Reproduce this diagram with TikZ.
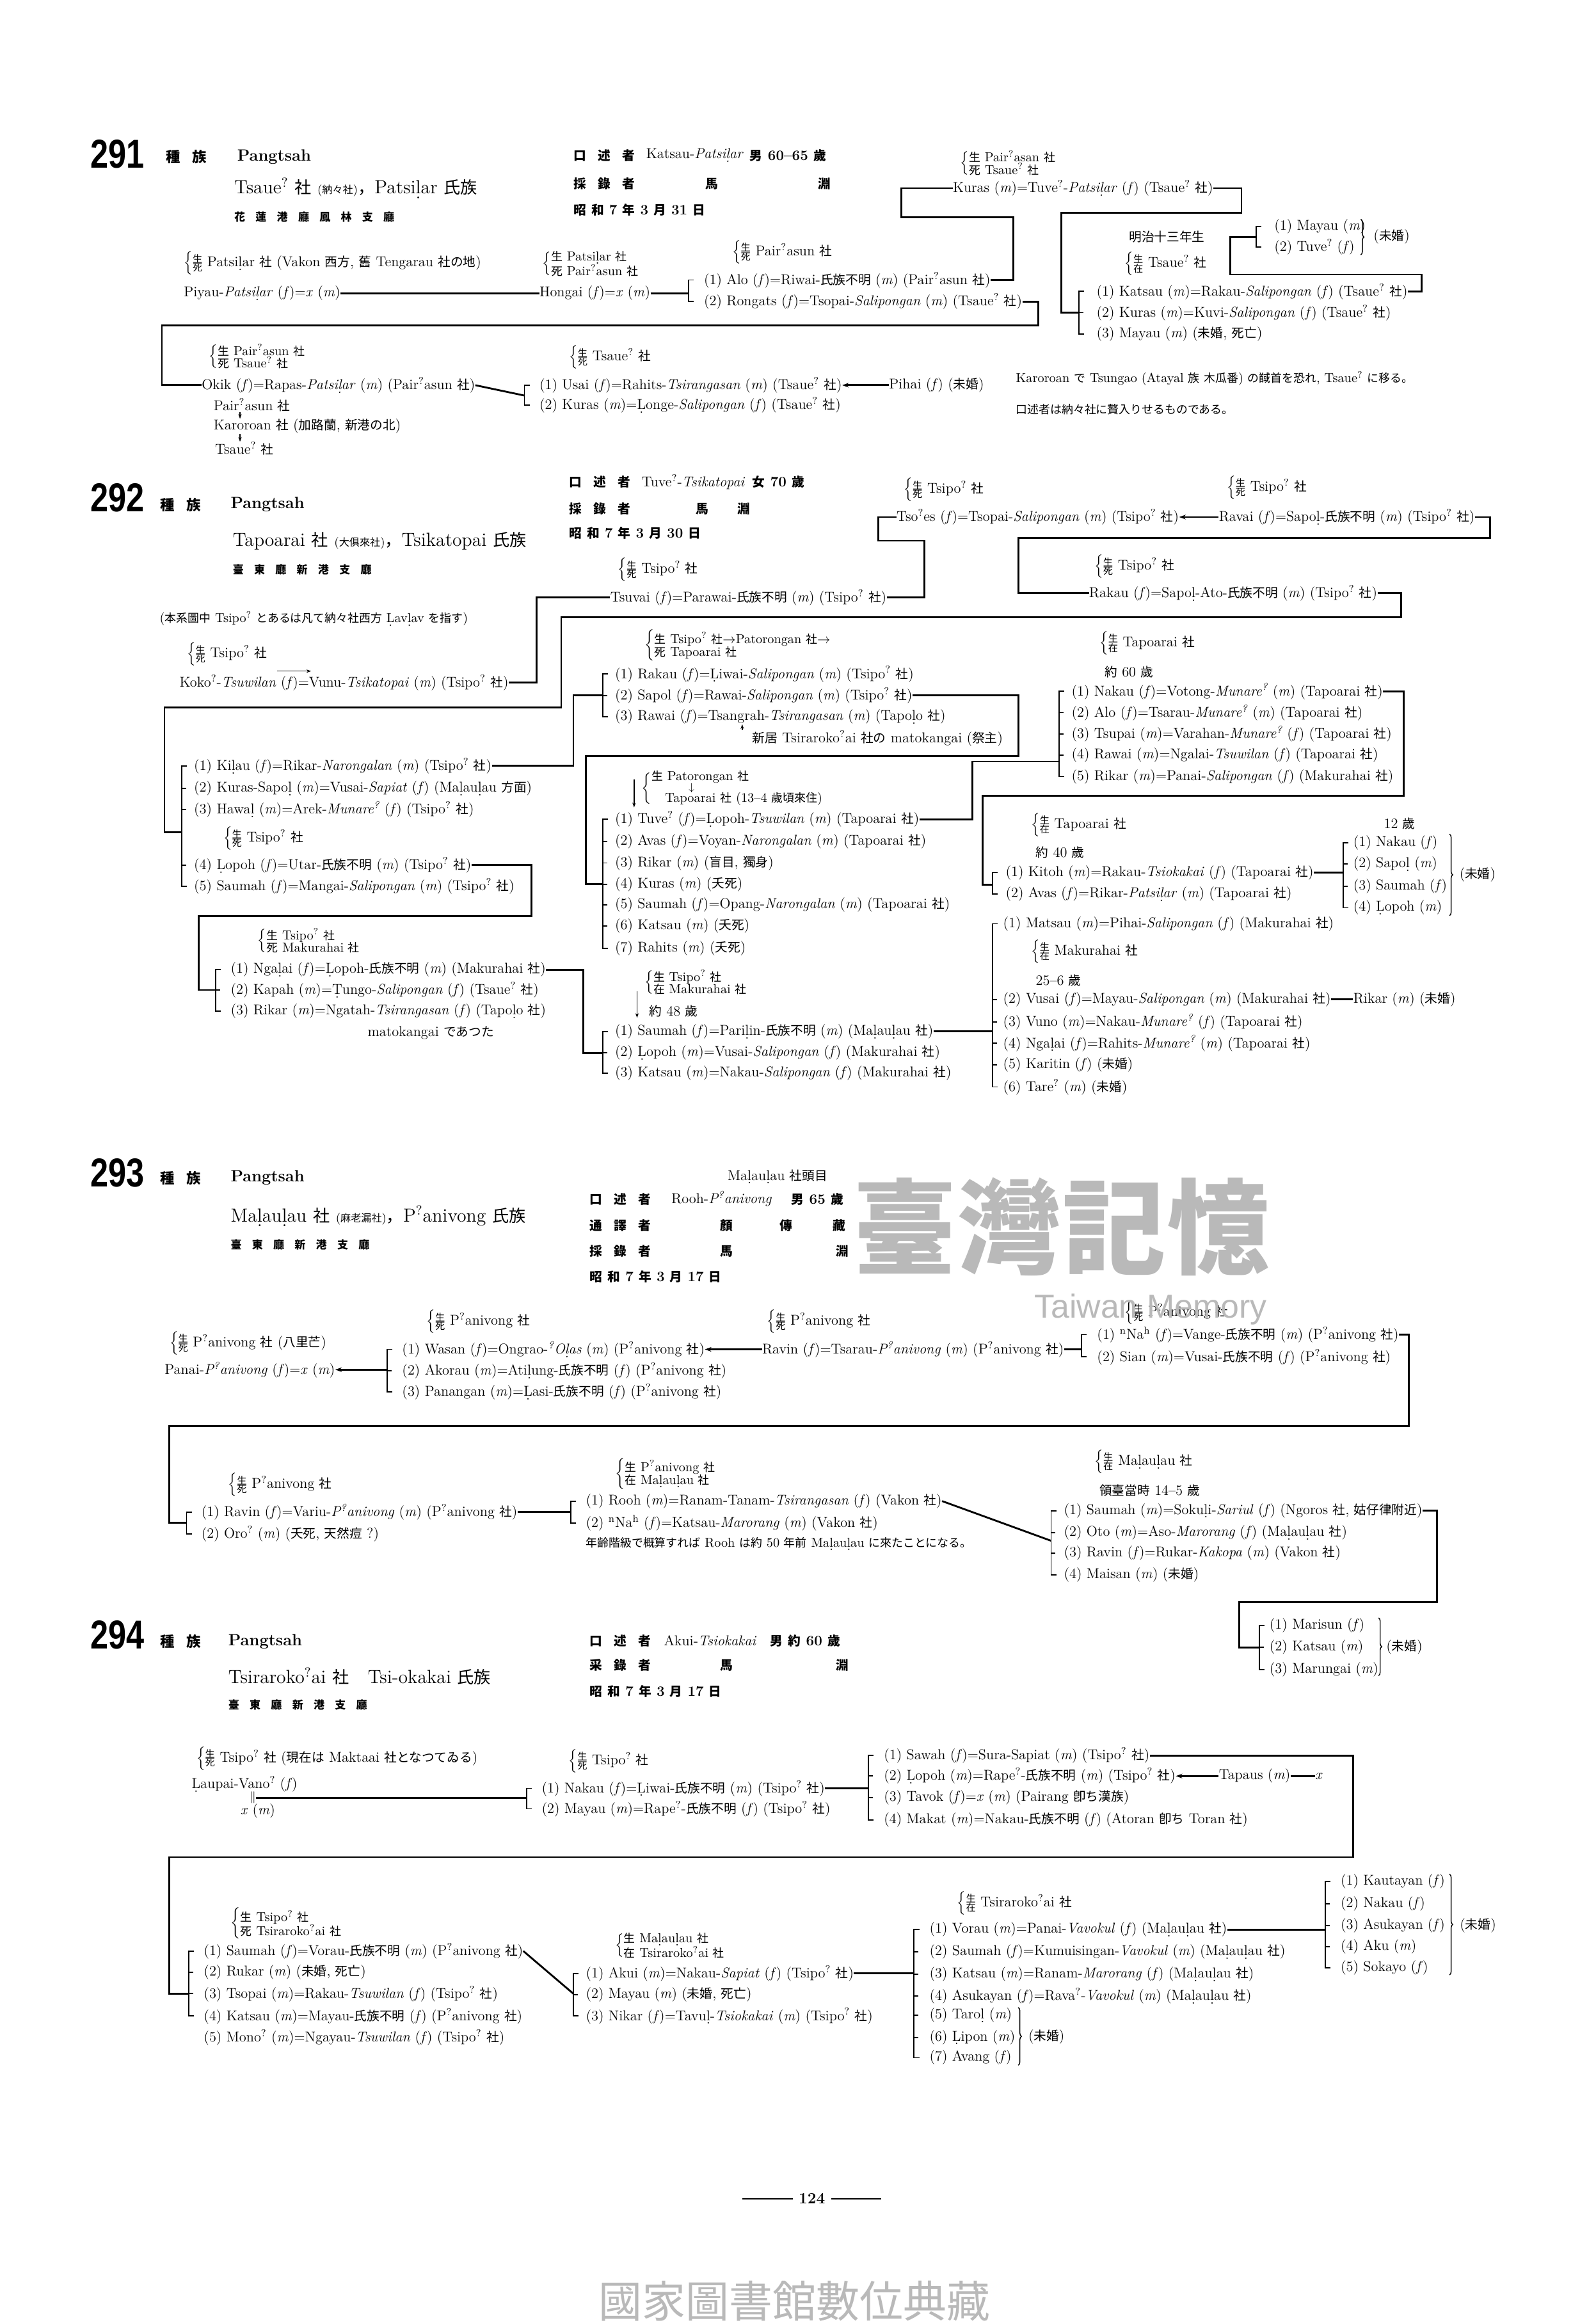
\documentclass[tikz,border=0pt]{standalone}
\usepackage{fontspec}
\usetikzlibrary{arrows.meta,decorations.pathreplacing}
\newfontfamily\cjkfont{Noto Sans CJK JP}[Scale=0.88]
\newfontfamily\numfont{Liberation Sans}[FakeStretch=0.8]
\newfontfamily\wmfont{Liberation Sans}
% switch to the CJK font for CJK characters
\XeTeXinterchartokenstate=1
\chardef\cjkcls=7
\newcount\cjkc
\def\cjkrange#1#2{\cjkc=#1\relax
  \loop\XeTeXcharclass\cjkc=\cjkcls\relax
  \ifnum\cjkc<#2\relax\advance\cjkc by 1\repeat}
\cjkrange{"2E80}{"9FFF}
\cjkrange{"F900}{"FAFF}
\cjkrange{"FF00}{"FFEF}
\XeTeXinterchartoks 0 \cjkcls = {\begingroup\cjkfont}
\XeTeXinterchartoks 1 \cjkcls = {\begingroup\cjkfont}
\XeTeXinterchartoks 2 \cjkcls = {\begingroup\cjkfont}
\XeTeXinterchartoks 3 \cjkcls = {\begingroup\cjkfont}
\XeTeXinterchartoks 4095 \cjkcls = {\begingroup\cjkfont}
\XeTeXinterchartoks \cjkcls 0 = {\endgroup}
\XeTeXinterchartoks \cjkcls 1 = {\endgroup}
\XeTeXinterchartoks \cjkcls 2 = {\endgroup}
\XeTeXinterchartoks \cjkcls 3 = {\endgroup}
\XeTeXinterchartoks \cjkcls 4095 = {\endgroup}
\newcommand{\gs}{\textsuperscript{?}}
\newcommand{\fe}{(\textit{f})}
\newcommand{\ma}{(\textit{m})}
\newcommand{\db}[1]{\ooalign{#1\cr\hidewidth\raisebox{-.6ex}{.}\hidewidth\cr}}
\newcommand{\gd}{\hspace{8pt}}
\newcommand{\gp}{\hspace{4pt}}
\newcommand{\gq}{\hspace{9pt}}
\newcommand{\sd}[2]{$\left\{\vcenter{\offinterlineskip\hbox{\fontsize{8.5}{8.5}\selectfont #1}\kern.5pt\hbox{\fontsize{8.5}{8.5}\selectfont #2}}\right.\kern-1pt$}
\newcommand{\sdd}[4]{$\left\{\vcenter{\offinterlineskip\hbox{\fontsize{10}{10}\selectfont #1\ #2}\kern.3pt\hbox{\fontsize{10}{10}\selectfont #3\ #4}}\right.$}
\newcommand{\brk}[3]{\draw[brak] (#1,0 |- #2.west) ++(3.5,0) -- ++(-3.5,0) -- (#1,0 |- #3.west) -- ++(3.5,0);}
\newcommand{\tk}[2]{\draw[brak] (#1,0 |- #2.west) -- ++(3,0);}

\begin{document}
\begin{tikzpicture}[x=0.4mm,y=-0.4mm,
  txt/.style={anchor=west,inner sep=0pt,font=\fontsize{11}{13}\selectfont},
  info/.style={txt,font=\fontsize{11}{13}\selectfont\bfseries},
  note/.style={txt,font=\fontsize{10}{12}\selectfont},
  head/.style={txt,font=\fontsize{12.5}{14}\selectfont\bfseries},
  titl/.style={txt,font=\fontsize{14.6}{16}\selectfont},
  dist/.style={txt,font=\fontsize{9.5}{11}\selectfont\bfseries},
  bignum/.style={txt,font=\numfont\fontsize{31}{31}\selectfont\bfseries},
  link/.style={line width=1.4pt},
  brak/.style={line width=0.9pt},
  marr/.style={line width=0.7pt,-{Stealth[length=3.5pt,width=2.5pt]}},
  larr/.style={link,{Stealth[length=5pt,width=3.5pt]}-},
  rbrace/.style={line width=0.7pt,decorate,decoration={brace,amplitude=2.5pt}}]
\fill[white] (0,0) rectangle (1077,1568);
\useasboundingbox (0,0) rectangle (1077,1568);

% 291
\node[bignum] (n291) at (61,104) {291};
\node[head] (zk291) at (112,106) {種\hspace{9pt}族};
\node[head] (pg291) at (160,106) {Pangtsah};
\node[titl] (sh291) at (158,127) {Tsaue\gs{} 社 {\fontsize{9}{9}\selectfont(納々社)}，Patsi\db{l}ar 氏族};
\node[dist] (ch291) at (158,146.5) {花\gd 蓮\gd 港\gd 廳\gd 鳳\gd 林\gd 支\gd 廳};
\node[info] (kj291) at (387,105) {口\gq 述\gq 者};
\node[txt] (kn291) at (436,105) {Katsau-\textit{Patsi\db{l}ar}};
\node[info] (ka291) at (506,105) {男 60--65 歲};
\node[info] (rj291) at (387,124) {採\gq 錄\gq 者};
\node[info] (rm291) at (476,124) {馬};
\node[info] (rf291) at (552,124) {淵};
\node[info] (dt291) at (387,141.5) {昭\gp 和\gp 7\gp 年\gp 3\gp 月\gp 31\gp 日};
\node[txt] (pat) at (124,177.5) {\sd{生}{死} Patsi\db{l}ar 社 (Vakon 西方, 舊 Tengarau 社の地)};
\node[txt] (piyau) at (124,198) {Piyau-\textit{Patsi\db{l}ar} \fe=\textit{x} \ma};
\node[txt] (hgb) at (366,178) {\sdd{生}{Patsi\db{l}ar 社}{死}{Pair\gs{}asun 社}};
\node[txt] (hongai) at (364,198) {Hongai \fe=\textit{x} \ma};
\node[txt] (alob) at (494,170) {\sd{生}{死} Pair\gs{}asun 社};
\node[txt] (alo) at (475,189) {(1) Alo \fe=Riwai-氏族不明 \ma{} (Pair\gs{}asun 社)};
\node[txt] (rong) at (475,203.5) {(2) Rongats \fe=Tsopai-\textit{Salipongan} \ma{} (Tsaue\gs{} 社)};
\node[txt] (kurb) at (648,110) {\sdd{生}{Pair\gs{}asan 社}{死}{Tsaue\gs{} 社}};
\node[txt] (kuras) at (643,127) {Kuras \ma=Tuve\gs-\textit{Patsi\db{l}ar} \fe{} (Tsaue\gs{} 社)};
\node[txt] (meiji) at (762,160) {明治十三年生};
\node[txt] (katb) at (759,178) {\sd{生}{在} Tsaue\gs{} 社};
\node[txt] (kat1) at (740,196.7) {(1) Katsau \ma=Rakau-\textit{Salipongan} \fe{} (Tsaue\gs{} 社)};
\node[txt] (kur2) at (740,211) {(2) Kuras \ma=Kuvi-\textit{Salipongan} \fe{} (Tsaue\gs{} 社)};
\node[txt] (may3) at (740,225.4) {(3) Mayau \ma{} (未婚, 死亡)};
\node[txt] (may1) at (860,153) {(1) Mayau \ma};
\node[txt] (tuv2) at (860,166.6) {(2) Tuve\gs{} \fe};
\node[txt] (unm1) at (927,160) {(未婚)};
\node[txt] (okb) at (141,240.5) {\sdd{生}{Pair\gs{}asun 社}{死}{Tsaue\gs{} 社}};
\node[txt] (okik) at (136,260) {Okik \fe=Rapas-\textit{Patsi\db{l}ar} \ma{} (Pair\gs{}asun 社)};
\node[txt] (mv1) at (144,273.4) {Pair\gs{}asun 社};
\node[txt] (mv2) at (144,287.7) {Karoroan 社 (加路蘭, 新港の北)};
\node[txt] (mv3) at (145,302.8) {Tsaue\gs{} 社};
\node[txt] (usb) at (384,241.2) {\sd{生}{死} Tsaue\gs{} 社};
\node[txt] (usai) at (364,260) {(1) Usai \fe=Rahits-\textit{Tsirangasan} \ma{} (Tsaue\gs{} 社)};
\node[txt] (kur3) at (364,273.4) {(2) Kuras \ma=\db{L}onge-\textit{Salipongan} \fe{} (Tsaue\gs{} 社)};
\node[txt] (pihai) at (600,260) {Pihai \fe{} (未婚)};
\node[note] (nt1) at (685.6,255.5) {Karoroan で Tsungao (Atayal 族\ 木瓜番) の馘首を恐れ, Tsaue\gs{} に移る。};
\node[note] (nt2) at (685.6,276.3) {口述者は納々社に贅入りせるものである。};
\draw[link] (piyau.east) -- (hongai.west);
\draw[link] (hongai.east) -- (464.7,198);
\brk{464.7}{alo}{rong}
\draw[link] (alo.east) -| (684,146.6) -| (608.5,127) -- (kuras.west);
\draw[link] (rong.east) -| (701,219.7) -| (109.3,260) -- (okik.west);
\draw[link] (kuras.east) -| (838,143.7) -| (716.4,211) -- (728.4,211);
\brk{728.4}{kat1}{may3}
\tk{728.4}{kur2}
\draw[link] (kat1.east) -| (959.6,185.3) -| (830.4,160) -- (848,160);
\brk{848}{may1}{tuv2}
\draw[rbrace] (918.5,148) -- (918.5,172);
\draw[link] (okik.east) -- (354,267);
\brk{354}{usai}{kur3}
\draw[larr] (usai.east) -- (pihai.west);
\draw[marr] (162,0 |- mv1.south) -- (162,0 |- mv2.north);
\draw[marr] (162,0 |- mv2.south) -- (162,0 |- mv3.north);

% 292
\node[bignum] (n292) at (61,336) {292};
\node[head] (zk292) at (108,340.6) {種\hspace{9pt}族};
\node[head] (pg292) at (155.6,340.6) {Pangtsah};
\node[titl] (sh292) at (157,365) {Tapoarai 社 {\fontsize{9}{9}\selectfont(大俱來社)}，Tsikatopai 氏族};
\node[dist] (ch292) at (157,384.5) {臺\gd 東\gd 廳\gd 新\gd 港\gd 支\gd 廳};
\node[info] (kj292) at (384,325.4) {口\gq 述\gq 者};
\node[txt] (kn292) at (433,325.4) {Tuve\gs-\textit{Tsikatopai}};
\node[info] (ka292) at (507.7,325.4) {女 70 歲};
\node[info] (rj292) at (384,343.4) {採\gq 錄\gq 者};
\node[info] (rm292) at (469.7,343.4) {馬};
\node[info] (rf292) at (497.7,343.4) {淵};
\node[info] (dt292) at (384,360) {昭\gp 和\gp 7\gp 年\gp 3\gp 月\gp 30\gp 日};
\node[note] (nt3) at (107.7,417.6) {(本系圖中 Tsipo\gs{} とあるは凡て納々社西方 \db{L}av\db{l}av を指す)};
\node[txt] (tsvb) at (417,384.5) {\sd{生}{死} Tsipo\gs{} 社};
\node[txt] (tsuvai) at (411.8,403.2) {Tsuvai \fe=Parawai-氏族不明 \ma{} (Tsipo\gs{} 社)};
\node[txt] (tsob) at (610,330.5) {\sd{生}{死} Tsipo\gs{} 社};
\node[txt] (tsoes) at (605,349) {Tso\gs{}es \fe=Tsopai-\textit{Salipongan} \ma{} (Tsipo\gs{} 社)};
\node[txt] (ravb) at (828,329) {\sd{生}{死} Tsipo\gs{} 社};
\node[txt] (ravai) at (822.6,349) {Ravai \fe=Sapo\db{l}-氏族不明 \ma{} (Tsipo\gs{} 社)};
\node[txt] (rakb) at (738.6,382.3) {\sd{生}{死} Tsipo\gs{} 社};
\node[txt] (rakau) at (735,400.3) {Rakau \fe=Sapo\db{l}-Ato-氏族不明 \ma{} (Tsipo\gs{} 社)};
\node[txt] (kokb) at (126,441.4) {\sd{生}{死} Tsipo\gs{} 社};
\node[txt] (koko) at (121,460.8) {Koko\gs-\textit{Tsuwilan} \fe=Vunu-\textit{Tsikatopai} \ma{} (Tsipo\gs{} 社)};
\draw[larr] (tsoes.east) -- (ravai.west);
\draw[link] (tsuvai.east) -| (624,365) -| (593,349) -- (tsoes.west);
\draw[link] (ravai.east) -| (1005.8,362.9) -| (687.3,400.3) -- (rakau.west);
\draw[link] (rakau.east) -| (945.9,416.5) -| (378.8,477.4) -| (111,561.6) -- (122.5,561.6);
\draw[link] (koko.east) -| (362.2,403.2) -- (tsuvai.west);
\draw[marr] (187,453) -- (210,453);
\node[txt] (k1) at (130.8,517) {(1) Ki\db{l}au \fe=Rikar-\textit{Narongalan} \ma{} (Tsipo\gs{} 社)};
\node[txt] (k2) at (130.8,532.1) {(2) Kuras-Sapo\db{l} \ma=Vusai-\textit{Sapiat} \fe{} (Ma\db{l}au\db{l}au 方面)};
\node[txt] (k3) at (130.8,546.5) {(3) Hawa\db{l} \ma=Arek-\textit{Munare\gs} \fe{} (Tsipo\gs{} 社)};
\node[txt] (lpb) at (150.6,565.9) {\sd{生}{死} Tsipo\gs{} 社};
\node[txt] (k4) at (130.8,583.9) {(4) \db{L}opoh \fe=Utar-氏族不明 \ma{} (Tsipo\gs{} 社)};
\node[txt] (k5) at (130.8,598.3) {(5) Saumah \fe=Mangai-\textit{Salipongan} \ma{} (Tsipo\gs{} 社)};
\brk{122.5}{k1}{k5}
\tk{122.5}{k2} \tk{122.5}{k3} \tk{122.5}{k4}
\node[txt] (rrb) at (435,435.6) {\sdd{生}{Tsipo\gs{} 社$\rightarrow$Patorongan 社$\rightarrow$}{死}{Tapoarai 社}};
\node[txt] (r1) at (415,455) {(1) Rakau \fe=\db{L}iwai-\textit{Salipongan} \ma{} (Tsipo\gs{} 社)};
\node[txt] (r2) at (415,469.4) {(2) Sapol \fe=Rawai-\textit{Salipongan} \ma{} (Tsipo\gs{} 社)};
\node[txt] (r3) at (415,483.8) {(3) Rawai \fe=Tsangrah-\textit{Tsirangasan} \ma{} (Tapo\db{l}o 社)};
\node[txt] (nr) at (507.7,498.2) {新居 Tsiraroko\gs{}ai 社の matokangai (祭主)};
\draw[link] (k1.east) -| (387,469.4) -- (406.9,469.4);
\brk{406.9}{r1}{r3}
\tk{406.9}{r2}
\draw[marr] (501,0 |- nr.north) -- (501,0 |- r3.south);
\draw[link] (r2.east) -| (687.3,510.5) -| (395.3,596.9) -- (406.9,596.9);
\node[txt] (tpb) at (742,434.2) {\sd{生}{在} Tapoarai 社};
\node[txt] (ag60) at (745.5,453.6) {約 60 歲};
\node[txt] (n1) at (723.2,466.6) {(1) Nakau \fe=Votong-\textit{Munare\gs} \ma{} (Tapoarai 社)};
\node[txt] (n2) at (723.2,481) {(2) Alo \fe=Tsarau-\textit{Munare\gs} \ma{} (Tapoarai 社)};
\node[txt] (n3) at (723.2,495.4) {(3) Tsupai \ma=Varahan-\textit{Munare\gs} \fe{} (Tapoarai 社)};
\node[txt] (n4) at (723.2,509.8) {(4) Rawai \ma=Ngalai-\textit{Tsuwilan} \fe{} (Tapoarai 社)};
\node[txt] (n5) at (723.2,524.2) {(5) Rikar \ma=Panai-\textit{Salipongan} \fe{} (Makurahai 社)};
\brk{714.7}{n1}{n5}
\tk{714.7}{n2} \tk{714.7}{n3} \tk{714.7}{n4}
\node[txt] (ptb) at (433,532) {$\left\{\vcenter{\offinterlineskip\hbox{\fontsize{10}{10}\selectfont 生 Patorongan 社}\hbox{\hspace{2.6em}\fontsize{8}{8}\selectfont$\downarrow$}\hbox{\fontsize{10}{10}\selectfont\hspace{1.05em}Tapoarai 社 (13--4 歲頃來住)}}\right.$};
\draw[marr] (428,526) -- (428,545);
\node[txt] (t1) at (415,553) {(1) Tuve\gs{} \fe=\db{L}opoh-\textit{Tsuwilan} \ma{} (Tapoarai 社)};
\node[txt] (t2) at (415,568.1) {(2) Avas \fe=Voyan-\textit{Narongalan} \ma{} (Tapoarai 社)};
\node[txt] (t3) at (415,582.5) {(3) Rikar \ma{} (盲目, 獨身)};
\node[txt] (t4) at (415,596.9) {(4) Kuras \ma{} (夭死)};
\node[txt] (t5) at (415,610.6) {(5) Saumah \fe=Opang-\textit{Narongalan} \ma{} (Tapoarai 社)};
\node[txt] (t6) at (415,625) {(6) Katsau \ma{} (夭死)};
\node[txt] (t7) at (415,640.1) {(7) Rahits \ma{} (夭死)};
\brk{406.9}{t1}{t7}
\tk{406.9}{t2} \tk{406.9}{t3} \tk{406.9}{t4} \tk{406.9}{t5} \tk{406.9}{t6}
\draw[link] (t1.east) -| (656.5,514) -- (714.7,514);
\node[txt] (mkb) at (435,663) {\sdd{生}{Tsipo\gs{} 社}{在}{Makurahai 社}};
\draw[marr] (430,669) -- (430,687);
\node[txt] (ag48) at (438,682.6) {約 48 歲};
\node[txt] (s1) at (415,696.2) {(1) Saumah \fe=Pari\db{l}in-氏族不明 \ma{} (Ma\db{l}au\db{l}au 社)};
\node[txt] (s2) at (415,710.6) {(2) \db{L}opoh \ma=Vusai-\textit{Salipongan} \fe{} (Makurahai 社)};
\node[txt] (s3) at (415,724.3) {(3) Katsau \ma=Nakau-\textit{Salipongan} \fe{} (Makurahai 社)};
\brk{406.9}{s1}{s3}
\tk{406.9}{s2}
\node[txt] (ngb) at (173.8,635) {\sdd{生}{Tsipo\gs{} 社}{死}{Makurahai 社}};
\node[txt] (g1) at (155.6,654.5) {(1) Nga\db{l}ai \fe=\db{L}opoh-氏族不明 \ma{} (Makurahai 社)};
\node[txt] (g2) at (155.6,668.2) {(2) Kapah \ma=\db{T}ungo-\textit{Salipongan} \fe{} (Tsaue\gs{} 社)};
\node[txt] (g3) at (155.6,682.6) {(3) Rikar \ma=Ngatah-\textit{Tsirangasan} \fe{} (Tapo\db{l}o 社)};
\node[txt] (mato) at (248,697) {matokangai であつた};
\brk{145.7}{g1}{g3}
\tk{145.7}{g2}
\draw[link] (k4.east) -| (358.9,618.5) -| (134.1,668.2) -- (145.7,668.2);
\draw[link] (g1.east) -| (393.6,710.6) -- (406.9,710.6);
\node[txt] (ktb) at (695.8,556.6) {\sd{生}{在} Tapoarai 社};
\node[txt] (ag40) at (699,575.3) {約 40 歲};
\node[txt] (kt1) at (678.7,589) {(1) Kitoh \ma=Rakau-\textit{Tsiokakai} \fe{} (Tapoarai 社)};
\node[txt] (kt2) at (678.7,603.4) {(2) Avas \fe=Rikar-\textit{Patsi\db{l}ar} \ma{} (Tapoarai 社)};
\brk{670}{kt1}{kt2}
\draw[link] (n1.east) -| (947.6,537.1) -| (663.3,597) -- (670,597);
\node[txt] (ag12) at (934,555.8) {12 歲};
\node[txt] (ch1) at (913.3,568.8) {(1) Nakau \fe};
\node[txt] (ch2) at (913.3,583.2) {(2) Sapo\db{l} \ma};
\node[txt] (ch3) at (913.3,598.3) {(3) Saumah \fe};
\node[txt] (ch4) at (913.3,612.7) {(4) \db{L}opoh \ma};
\brk{906.5}{ch1}{ch4}
\tk{906.5}{ch2} \tk{906.5}{ch3}
\draw[link] (kt1.east) -- (906.5,0 |- kt1.east);
\draw[rbrace] (978.4,563) -- (978.4,618);
\node[txt] (unm2) at (985,590.4) {(未婚)};
\node[txt] (m1) at (677,623.5) {(1) Matsau \ma=Pihai-\textit{Salipongan} \fe{} (Makurahai 社)};
\node[txt] (mkb2) at (695.8,642.2) {\sd{生}{在} Makurahai 社};
\node[txt] (ag25) at (699,661.7) {25--6 歲};
\node[txt] (m2) at (677,674.6) {(2) Vusai \fe=Mayau-\textit{Salipongan} \ma{} (Makurahai 社)};
\node[txt] (rk) at (913.3,674.6) {Rikar \ma{} (未婚)};
\node[txt] (m3) at (677,689.8) {(3) Vuno \ma=Nakau-\textit{Munare\gs} \fe{} (Tapoarai 社)};
\node[txt] (m4) at (677,704.2) {(4) Nga\db{l}ai \fe=Rahits-\textit{Munare\gs} \ma{} (Tapoarai 社)};
\node[txt] (m5) at (677,718.6) {(5) Karitin \fe{} (未婚)};
\node[txt] (m6) at (677,733.7) {(6) Tare\gs{} \ma{} (未婚)};
\brk{670}{m1}{m6}
\tk{670}{m2} \tk{670}{m3} \tk{670}{m4} \tk{670}{m5}
\draw[link] (m2.east) -- (rk.west);
\draw[link] (s1.east) -- (670,0 |- s1.east);

% 293
\node[bignum] (n293) at (61,791.7) {293};
\node[head] (zk293) at (108,795) {種\hspace{9pt}族};
\node[head] (pg293) at (155.6,795) {Pangtsah};
\node[titl] (sh293) at (155.6,820.8) {Ma\db{l}au\db{l}au 社 {\fontsize{9}{9}\selectfont(麻老漏社)}，P\gs{}anivong 氏族};
\node[dist] (ch293) at (155.6,840.3) {臺\gd 東\gd 廳\gd 新\gd 港\gd 支\gd 廳};
\node[txt] (hm293) at (491,794.2) {Ma\db{l}au\db{l}au 社頭目};
\node[info] (kj293) at (398,809.3) {口\gq 述\gq 者};
\node[txt] (kn293) at (453,809.3) {Rooh-\textit{P\gs{}anivong}};
\node[info] (ka293) at (534,809.3) {男 65 歲};
\node[info] (tj293) at (398,827.3) {通\gq 譯\gq 者};
\node[info] (tna) at (486,827.3) {顏};
\node[info] (tnb) at (526,827.3) {傳};
\node[info] (tnc) at (562,827.3) {藏};
\node[info] (rj293) at (398,844.6) {採\gq 錄\gq 者};
\node[info] (rm293) at (486,844.6) {馬};
\node[info] (rf293) at (564,844.6) {淵};
\node[info] (dt293) at (398,861.9) {昭\gp 和\gp 7\gp 年\gp 3\gp 月\gp 17\gp 日};
\node[txt] (pnb) at (114.3,906.5) {\sd{生}{死} P\gs{}anivong 社 (八里芒)};
\node[txt] (panai) at (111,924.5) {Panai-\textit{P\gs{}anivong} \fe=\textit{x} \ma};
\node[txt] (wab) at (287.8,892.1) {\sd{生}{死} P\gs{}anivong 社};
\node[txt] (w1) at (271.3,910.8) {(1) Wasan \fe=Ongrao-\textit{\gs{}O\db{l}as} \ma{} (P\gs{}anivong 社)};
\node[txt] (w2) at (271.3,925.2) {(2) Akorau \ma=Ati\db{l}ung-氏族不明 \fe{} (P\gs{}anivong 社)};
\node[txt] (w3) at (271.3,939.6) {(3) Panangan \ma=\db{L}asi-氏族不明 \fe{} (P\gs{}anivong 社)};
\node[txt] (rvb) at (517.6,892.1) {\sd{生}{死} P\gs{}anivong 社};
\node[txt] (ravin) at (514.3,910.8) {Ravin \fe=Tsarau-\textit{P\gs{}anivong} \ma{} (P\gs{}anivong 社)};
\node[txt] (nab) at (759,886) {\sd{生}{死} P\gs{}anivong 社};
\node[txt] (na1) at (740.4,900.8) {(1) \textsuperscript{n}Na\textsuperscript{h} \fe=Vange-氏族不明 \ma{} (P\gs{}anivong 社)};
\node[txt] (sian) at (740.4,915.9) {(2) Sian \ma=Vusai-氏族不明 \fe{} (P\gs{}anivong 社)};
\brk{261.4}{w1}{w3}
\tk{261.4}{w2}
\draw[larr] (panai.east) -- (261.4,0 |- panai.east);
\draw[larr] (w1.east) -- (ravin.west);
\draw[link] (ravin.east) -- (730,0 |- ravin.east);
\brk{730}{na1}{sian}
\draw[link] (na1.east) -| (951,962.7) -| (114.3,1028) -- (125.9,1028);
\node[txt] (rvb2) at (154,1002.2) {\sd{生}{死} P\gs{}anivong 社};
\node[txt] (rv1) at (135.8,1020.6) {(1) Ravin \fe=Variu-\textit{P\gs{}anivong} \ma{} (P\gs{}anivong 社)};
\node[txt] (oro) at (135.8,1035.4) {(2) Oro\gs{} \ma{} (夭死, 天然痘 ?)};
\brk{125.9}{rv1}{oro}
\node[txt] (rob) at (415,994.8) {\sdd{生}{P\gs{}anivong 社}{在}{Ma\db{l}au\db{l}au 社}};
\node[txt] (rooh) at (395.3,1013.2) {(1) Rooh \ma=Ranam-Tanam-\textit{Tsirangasan} \fe{} (Vakon 社)};
\node[txt] (na2) at (395.3,1028) {(2) \textsuperscript{n}Na\textsuperscript{h} \fe=Katsau-\textit{Marorang} \ma{} (Vakon 社)};
\node[note] (nt4) at (395.3,1041.9) {年齡階級で概算すれば Rooh は約 50 年前 Ma\db{l}au\db{l}au に來たことになる。};
\draw[link] (rv1.east) -- (385.4,0 |- rv1.east);
\brk{385.4}{rooh}{na2}
\draw[link] (rooh.east) -- (709.5,1040);
\node[txt] (mlb) at (738.7,986.5) {\sd{生}{在} Ma\db{l}au\db{l}au 社};
\node[txt] (ryo) at (742,1005.9) {領臺當時 14--5 歲};
\node[txt] (sm1) at (718,1019.7) {(1) Saumah \ma=Soku\db{l}i-\textit{Sariul} \fe{} (Ngoros 社, 姑仔律附近)};
\node[txt] (sm2) at (718,1034.5) {(2) Oto \ma=Aso-\textit{Marorang} \fe{} (Ma\db{l}au\db{l}au 社)};
\node[txt] (sm3) at (718,1048.3) {(3) Ravin \fe=Rukar-\textit{Kakopa} \ma{} (Vakon 社)};
\node[txt] (sm4) at (718,1063.1) {(4) Maisan \ma{} (未婚)};
\brk{709.5}{sm1}{sm4}
\tk{709.5}{sm2} \tk{709.5}{sm3}
\draw[link] (sm1.east) -| (969.8,1081.5) -| (836.3,1112) -- (850,1112);
\node[txt] (mr1) at (856.8,1097.2) {(1) Marisun \fe};
\node[txt] (mr2) at (856.8,1112) {(2) Katsau \ma};
\node[txt] (mr3) at (856.8,1126.8) {(3) Marungai \ma};
\brk{850}{mr1}{mr3}
\tk{850}{mr2}
\draw[rbrace] (930.5,1092) -- (930.5,1131);
\node[txt] (unm3) at (935.6,1112) {(未婚)};

% 294
\node[bignum] (n294) at (61,1103.6) {294};
\node[head] (zk294) at (108,1108) {種\hspace{9pt}族};
\node[head] (pg294) at (154,1108) {Pangtsah};
\node[titl] (sh294) at (154,1131.4) {Tsiraroko\gs{}ai 社\quad Tsi-okakai 氏族};
\node[dist] (ch294) at (154,1150.8) {臺\gd 東\gd 廳\gd 新\gd 港\gd 支\gd 廳};
\node[info] (kj294) at (398,1107.4) {口\gq 述\gq 者};
\node[txt] (kn294) at (448,1107.4) {Akui-\textit{Tsiokakai}};
\node[info] (ka294) at (519.7,1107.4) {男 約 60 歲};
\node[info] (rj294) at (398,1124) {采\gq 錄\gq 者};
\node[info] (rm294) at (486,1124) {馬};
\node[info] (rf294) at (564,1124) {淵};
\node[info] (dt294) at (398,1141.5) {昭\gp 和\gp 7\gp 年\gp 3\gp 月\gp 17\gp 日};
\node[txt] (lab) at (132.5,1186.8) {\sd{生}{死} Tsipo\gs{} 社 (現在は Maktaai 社となつてゐる)};
\node[txt] (laupai) at (129.2,1204.3) {\db{L}aupai-Vano\gs{} \fe};
\node[txt,font=\fontsize{9}{9}\selectfont] (mar) at (168.5,1213.5) {$\|$};
\node[txt] (xm) at (162.2,1222.5) {\textit{x} \ma};
\draw[link] (mar.east) -- (355.6,0 |- mar.east);
\node[txt] (nkb) at (383.7,1188.6) {\sd{生}{死} Tsipo\gs{} 社};
\node[txt] (nk1) at (365.5,1207.1) {(1) Nakau \fe=\db{L}iwai-氏族不明 \ma{} (Tsipo\gs{} 社)};
\node[txt] (nk2) at (365.5,1220.9) {(2) Mayau \ma=Rape\gs-氏族不明 \fe{} (Tsipo\gs{} 社)};
\brk{355.6}{nk1}{nk2}
\draw[link] (nk1.east) -- (586.2,0 |- nk1.east);
\node[txt] (sw1) at (596.5,1184.9) {(1) Sawah \fe=Sura-Sapiat \ma{} (Tsipo\gs{} 社)};
\node[txt] (sw2) at (596.5,1198.8) {(2) \db{L}opoh \ma=Rape\gs-氏族不明 \ma{} (Tsipo\gs{} 社)};
\node[txt] (tapaus) at (822.6,1198.8) {Tapaus \ma};
\node[txt] (tx) at (887.6,1198.8) {\textit{x}};
\node[txt] (sw3) at (596.5,1213.5) {(3) Tavok \fe=\textit{x} \ma{} (Pairang 卽ち漢族)};
\node[txt] (sw4) at (596.5,1228.3) {(4) Makat \ma=Nakau-氏族不明 \fe{} (Atoran 卽ち Toran 社)};
\brk{586.2}{sw1}{sw4}
\tk{586.2}{sw2} \tk{586.2}{sw3}
\draw[larr] (sw2.east) -- (tapaus.west);
\draw[link] (tapaus.east) -- (tx.west);
\draw[link] (sw1.east) -| (913.3,1253.5) -| (114.3,1345.7) -- (127.5,1345.7);
\node[txt] (tsb) at (155.6,1298.2) {\sdd{生}{Tsipo\gs{} 社}{死}{Tsiraroko\gs{}ai 社}};
\node[txt] (so1) at (137.4,1316.9) {(1) Saumah \fe=Vorau-氏族不明 \ma{} (P\gs{}anivong 社)};
\node[txt] (so2) at (137.4,1331.3) {(2) Rukar \ma{} (未婚, 死亡)};
\node[txt] (so3) at (137.4,1345.7) {(3) Tsopai \ma=Rakau-\textit{Tsuwilan} \fe{} (Tsipo\gs{} 社)};
\node[txt] (so4) at (137.4,1360.8) {(4) Katsau \ma=Mayau-氏族不明 \fe{} (P\gs{}anivong 社)};
\node[txt] (so5) at (137.4,1375.2) {(5) Mono\gs{} \ma=Ngayau-\textit{Tsuwilan} \fe{} (Tsipo\gs{} 社)};
\brk{127.5}{so1}{so4}
\tk{127.5}{so2} \tk{127.5}{so3}
\draw[link] (so1.east) -- (387,1345.7);
\node[txt] (akb) at (415,1313.3) {\sdd{生}{Ma\db{l}au\db{l}au 社}{在}{Tsiraroko\gs{}ai 社}};
\node[txt] (ak1) at (395.3,1332) {(1) Akui \ma=Nakau-\textit{Sapiat} \fe{} (Tsipo\gs{} 社)};
\node[txt] (ak2) at (395.3,1346.4) {(2) Mayau \ma{} (未婚, 死亡)};
\node[txt] (ak3) at (395.3,1360.8) {(3) Nikar \fe=Tavu\db{l}-\textit{Tsiokakai} \ma{} (Tsipo\gs{} 社)};
\brk{387}{ak1}{ak3}
\tk{387}{ak2}
\draw[link] (ak1.east) -- (617,0 |- ak1.east);
\node[txt] (vob) at (646,1284.5) {\sd{生}{在} Tsiraroko\gs{}ai 社};
\node[txt] (vo1) at (627.3,1302.5) {(1) Vorau \ma=Panai-\textit{Vavokul} \fe{} (Ma\db{l}au\db{l}au 社)};
\node[txt] (vo2) at (627.3,1317.6) {(2) Saumah \fe=Kumuisingan-\textit{Vavokul} \ma{} (Ma\db{l}au\db{l}au 社)};
\node[txt] (vo3) at (627.3,1332.7) {(3) Katsau \ma=Ranam-\textit{Marorang} \fe{} (Ma\db{l}au\db{l}au 社)};
\node[txt] (vo4) at (627.3,1347.1) {(4) Asukayan \fe=Rava\gs-\textit{Vavokul} \ma{} (Ma\db{l}au\db{l}au 社)};
\node[txt] (vo5) at (627.3,1360.1) {(5) Taro\db{l} \ma};
\node[txt] (vo6) at (627.3,1375.2) {(6) \db{L}ipon \ma};
\node[txt] (vo7) at (627.3,1388.9) {(7) Avang \fe};
\brk{617}{vo1}{vo7}
\tk{617}{vo2} \tk{617}{vo3} \tk{617}{vo4} \tk{617}{vo5} \tk{617}{vo6}
\draw[rbrace] (687.3,1355) -- (687.3,1394);
\node[txt] (unm4) at (694,1375) {(未婚)};
\draw[link] (vo1.east) -- (894.5,0 |- vo1.east);
\node[txt] (ku1) at (904.8,1270.1) {(1) Kautayan \fe};
\node[txt] (ku2) at (904.8,1285.2) {(2) Nakau \fe};
\node[txt] (ku3) at (904.8,1299.6) {(3) Asukayan \fe};
\node[txt] (ku4) at (904.8,1314) {(4) Aku \ma};
\node[txt] (ku5) at (904.8,1328.4) {(5) Sokayo \fe};
\brk{894.5}{ku1}{ku5}
\tk{894.5}{ku2} \tk{894.5}{ku3} \tk{894.5}{ku4}
\draw[rbrace] (978.4,1265) -- (978.4,1333);
\node[txt] (unm5) at (985.3,1299.6) {(未婚)};

% page foot
\node[txt,font=\fontsize{12}{12}\selectfont\bfseries] (pgno) at (539,1484) {124};
\draw[line width=1pt] ([xshift=-1.6mm]pgno.west) -- ++(-13.5mm,0);
\draw[line width=1pt] ([xshift=1.6mm]pgno.east) -- ++(13.5mm,0);
\node[txt,font=\fontsize{38}{38}\selectfont,text=gray!55] (lib) at (404,1553) {國家圖書館數位典藏};

% watermark
\node[txt,font=\fontsize{90}{90}\selectfont\bfseries,text=gray!55] (wm) at (576,828) {臺\hspace{1pt}灣\hspace{1pt}記\hspace{1pt}憶};
\node[txt,font=\wmfont\fontsize{25.5}{25.5}\selectfont,text=gray!55] (wm2) at (698,884) {Taiwan Memory};
\end{tikzpicture}
\end{document}
